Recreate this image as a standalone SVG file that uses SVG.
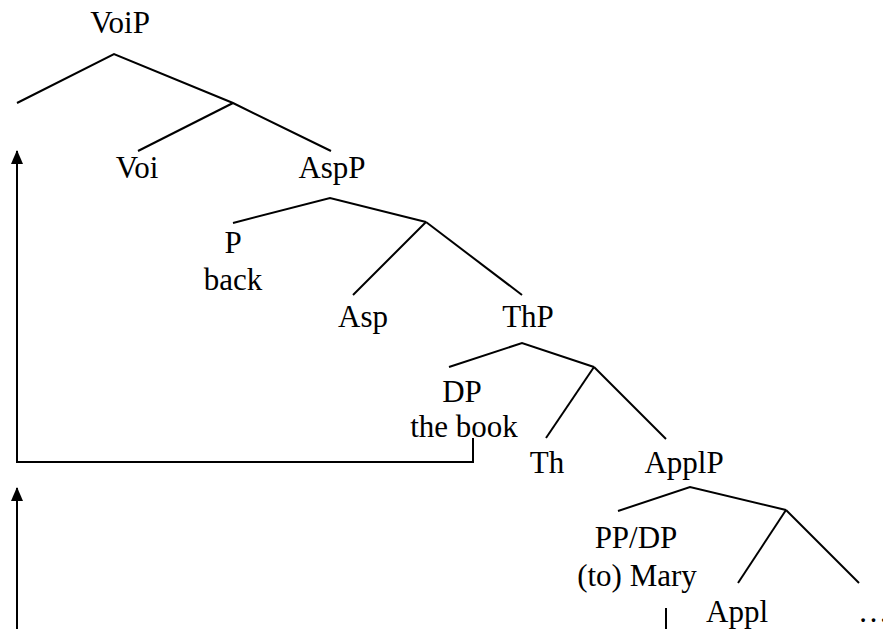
<svg xmlns="http://www.w3.org/2000/svg" width="883" height="629" viewBox="0 0 883 629" font-family="'Liberation Serif', 'Times New Roman', serif">
  <style>
    text { font-family: "Liberation Serif", "Times New Roman", serif; font-size: 31px; fill: #000; text-anchor: middle; }
    .branch { stroke: #000; stroke-width: 2; fill: none; }
    .move { stroke: #000; stroke-width: 2; fill: none; }
  </style>
  <defs>
    <marker id="head" viewBox="0 0 14 12" refX="13" refY="6" markerWidth="14" markerHeight="12" markerUnits="userSpaceOnUse" orient="auto">
      <path d="M0,0 L14,6 L0,12 Z" fill="#000"/>
    </marker>
  </defs>
  <rect width="883" height="629" fill="#fff"/>

  <!-- tree branches -->
  <g id="branches">
    <polyline class="branch" points="17,103 114,54 233,103 331,151"/>
    <line class="branch" x1="233" y1="103" x2="138" y2="151"/>
    <polyline class="branch" points="233,223 330,198 426,222"/>
    <line class="branch" x1="426" y1="222" x2="353" y2="295"/>
    <line class="branch" x1="426" y1="222" x2="522" y2="295"/>
    <polyline class="branch" points="449,367 522,343 594,367"/>
    <line class="branch" x1="594" y1="367" x2="546" y2="438"/>
    <line class="branch" x1="594" y1="367" x2="666" y2="439"/>
    <polyline class="branch" points="618,511 690,487 786,510"/>
    <line class="branch" x1="786" y1="510" x2="738" y2="583"/>
    <line class="branch" x1="786" y1="510" x2="859" y2="583"/>
  </g>

  <!-- movement arrows -->
  <g id="connectors">
    <polyline class="move" points="473,438 473,462 17,462 17,151" marker-end="url(#head)"/>
    <line class="move" x1="17" y1="629" x2="17" y2="488" marker-end="url(#head)"/>
    <line class="move" x1="666" y1="608" x2="666" y2="629"/>
  </g>

  <!-- node labels -->
  <g id="n-voip"><text x="120" y="33">VoiP</text></g>
  <g id="n-voi"><text x="137" y="178">Voi</text></g>
  <g id="n-aspp"><text x="332" y="178">AspP</text></g>
  <g id="n-p"><text x="233" y="253">P</text><text x="233" y="290">back</text></g>
  <g id="n-asp"><text x="363" y="327">Asp</text></g>
  <g id="n-thp"><text x="528" y="327">ThP</text></g>
  <g id="n-dp"><text x="462" y="402">DP</text><text x="464" y="437">the book</text></g>
  <g id="n-th"><text x="547" y="473">Th</text></g>
  <g id="n-applp"><text x="684" y="473">ApplP</text></g>
  <g id="n-ppdp"><text x="636" y="548">PP/DP</text><text x="637" y="586">(to) Mary</text></g>
  <g id="n-appl"><text x="737" y="622">Appl</text></g>
  <g id="n-more"><text x="858" y="622" style="text-anchor:start">…</text></g>
</svg>
